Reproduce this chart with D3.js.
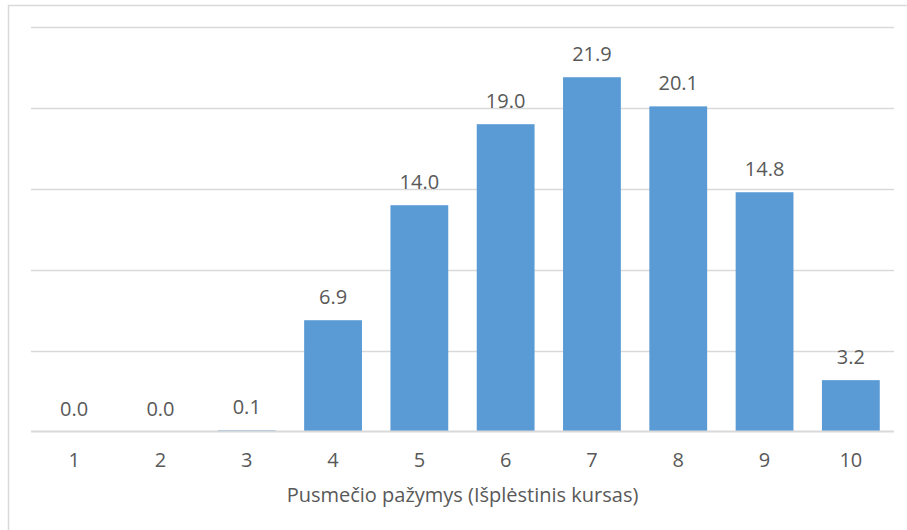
<!DOCTYPE html>
<html>
<head>
<meta charset="utf-8">
<script src="https://cdn.jsdelivr.net/npm/d3@7"></script>
<style>
  html, body { margin: 0; padding: 0; background: #fff; }
  svg text { font-family: "Open Sans", "Liberation Sans", sans-serif; fill: #595959; }
</style>
</head>
<body>
<div id="chart"></div>
<script>
// data
const grades = ['1', '2', '3', '4', '5', '6', '7', '8', '9', '10'];
const shares = [0.0, 0.0, 0.1, 6.9, 14.0, 19.0, 21.9, 20.1, 14.8, 3.2];
const yTicks = [5, 10, 15, 20, 25];
const xTitle = 'Pusmečio pažymys (Išplėstinis kursas)';

const svgwidth = 907;
const svgheight = 530;
const margin = { left: 31, right: 13, top: 27, bottom: 98 };
const width = svgwidth - margin.left - margin.right;
const height = svgheight - margin.top - margin.bottom;

const svg = d3.select('#chart').append('svg')
  .attr('width', svgwidth)
  .attr('height', svgheight);

// chart frame (only top/left visible in the crop)
svg.append('rect')
  .attr('x', 8.5)
  .attr('y', 5.5)
  .attr('width', svgwidth + 20)
  .attr('height', svgheight + 20)
  .attr('fill', 'none')
  .attr('stroke', '#d9d9d9')
  .attr('stroke-width', 1.5);

const g = svg.append('g').attr('transform', `translate(${margin.left},${margin.top})`);

const x = d3.scaleBand()
  .domain(grades)
  .range([0, width])
  .paddingInner(0.33)
  .paddingOuter(0.165);

const y = d3.scaleLinear()
  .domain([0, 25])
  .range([height, 0]);

// gridlines (behind the bars)
g.append('g')
  .selectAll('line')
  .data(yTicks)
  .enter()
  .append('line')
  .attr('x1', 0)
  .attr('x2', width)
  .attr('y1', d => Math.round(y(d)) + 0.5)
  .attr('y2', d => Math.round(y(d)) + 0.5)
  .attr('stroke', '#d9d9d9')
  .attr('stroke-width', 1.5);

// bars
g.selectAll('.bar')
  .data(shares)
  .enter()
  .append('rect')
  .attr('class', 'bar')
  .attr('x', (d, i) => x(grades[i]))
  .attr('y', d => y(d))
  .attr('width', x.bandwidth())
  .attr('height', d => height - y(d))
  .attr('fill', '#5b9bd5');

// horizontal axis line sits on top of the bars
g.append('line')
  .attr('x1', 0)
  .attr('x2', width)
  .attr('y1', y(0) - 0.5)
  .attr('y2', y(0) - 0.5)
  .attr('stroke', '#d9d9d9')
  .attr('stroke-width', 2);

// value labels
g.selectAll('.label')
  .data(shares)
  .enter()
  .append('text')
  .attr('class', 'label')
  .attr('x', (d, i) => x(grades[i]) + x.bandwidth() / 2)
  .attr('y', d => y(d) - 16)
  .attr('text-anchor', 'middle')
  .attr('font-size', '20px')
  .text(d => d.toFixed(1));

// x axis
const xAxis = g.append('g')
  .attr('transform', `translate(0,${height})`)
  .call(d3.axisBottom(x).tickSize(0).tickPadding(21));
xAxis.select('.domain').remove();
xAxis.selectAll('text')
  .attr('font-size', '20px')
  .attr('font-family', null)
  .attr('fill', null);

// axis title
svg.append('text')
  .attr('x', margin.left + width / 2)
  .attr('y', 502)
  .attr('text-anchor', 'middle')
  .attr('font-size', '20px')
  .text(xTitle);
</script>
</body>
</html>
